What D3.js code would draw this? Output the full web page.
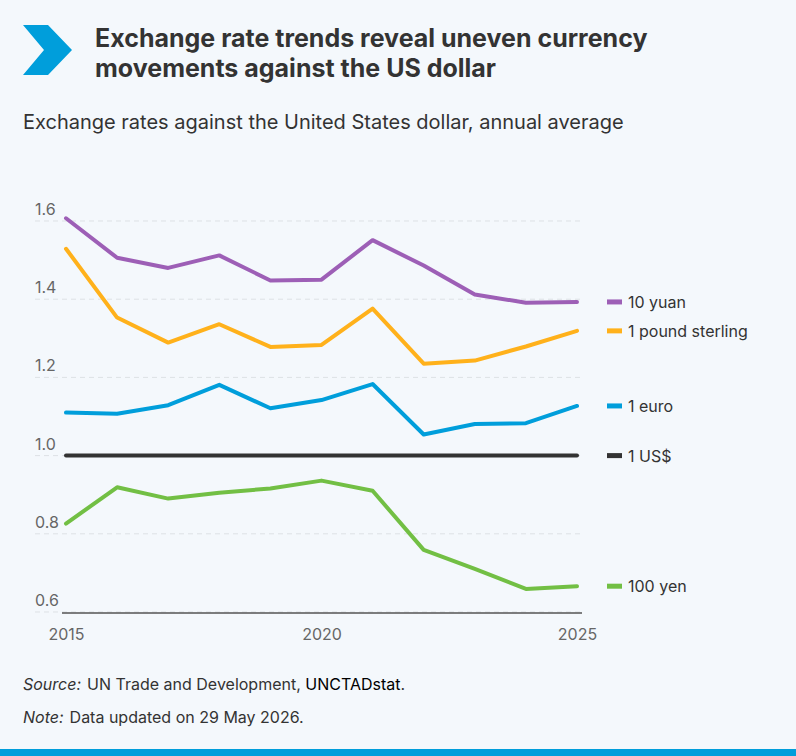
<!DOCTYPE html>
<html>
<head>
<meta charset="utf-8">
<script src="https://cdn.jsdelivr.net/npm/d3@7"></script>
<style>
  html, body { margin: 0; padding: 0; background: #F4F8FC; }
  svg { display: block; font-family: Inter, "Noto Sans", sans-serif; }
</style>
</head>
<body>
<svg id="chart" width="796" height="756"></svg>
<script>
const years = [2015, 2016, 2017, 2018, 2019, 2020, 2021, 2022, 2023, 2024, 2025];
const yuan10   = [1.607, 1.506, 1.480, 1.512, 1.448, 1.450, 1.551, 1.486, 1.412, 1.391, 1.393];
const pound1   = [1.529, 1.353, 1.289, 1.336, 1.278, 1.283, 1.376, 1.235, 1.243, 1.279, 1.319];
const euro1    = [1.110, 1.107, 1.129, 1.181, 1.121, 1.142, 1.183, 1.054, 1.081, 1.083, 1.127];
const usd1     = [1, 1, 1, 1, 1, 1, 1, 1, 1, 1, 1];
const yen100   = [0.826, 0.919, 0.890, 0.905, 0.916, 0.936, 0.910, 0.759, 0.710, 0.659, 0.666];
const seriesNames = ["10 yuan", "1 pound sterling", "1 euro", "1 US$", "100 yen"];
const seriesColors = ["#9D5FB6", "#FFB11B", "#009EDB", "#333333", "#72BF44"];
const yTicks = [0.6, 0.8, 1.0, 1.2, 1.4, 1.6];
const xTicks = [2015, 2020, 2025];

const series = [yuan10, pound1, euro1, usd1, yen100].map((vals, i) => ({
  name: seriesNames[i], color: seriesColors[i], values: vals
}));

const svg = d3.select("#chart");

// Chevron
svg.append("path")
  .attr("d", "M23,25 L48,25 L72,50 L48,75 L23,75 L44,50 Z")
  .attr("fill", "#009EDB");

// Title
const title = svg.append("text")
  .attr("font-size", 25).attr("font-weight", 700).attr("fill", "#333");
title.append("tspan").attr("x", 95).attr("y", 47).text("Exchange rate trends reveal uneven currency");
title.append("tspan").attr("x", 95).attr("y", 77).text("movements against the US dollar");

svg.append("text").attr("x", 23).attr("y", 129)
  .attr("font-size", 20).attr("fill", "#333")
  .text("Exchange rates against the United States dollar, annual average");

const x = d3.scaleLinear().domain([2015, 2025]).range([66, 577]);
const y = d3.scaleLinear().domain([0.6, 1.6]).range([612, 221]);

// Gridlines
svg.append("g").selectAll("line").data(yTicks).join("line")
  .attr("x1", 35).attr("x2", 582)
  .attr("y1", d => y(d)).attr("y2", d => y(d))
  .attr("stroke", "#DDE1E5").attr("stroke-width", 1)
  .attr("stroke-dasharray", "5,4");

// Y labels
svg.append("g").selectAll("text").data(yTicks).join("text")
  .attr("x", 35).attr("y", d => y(d) - 6)
  .attr("font-size", 16).attr("fill", "#666")
  .text(d => d3.format(".1f")(d));

// X axis
const xAxis = d3.axisBottom(x).tickValues(xTicks).tickFormat(d3.format("d")).tickSize(0).tickPadding(0);
const gx = svg.append("g").attr("transform", `translate(0,${y(0.6) + 1})`).call(xAxis);
gx.select(".domain").remove();
gx.selectAll("text").attr("font-size", 16).attr("fill", "#666")
  .attr("font-family", "Inter, 'Noto Sans', sans-serif")
  .attr("dy", 0).attr("y", 27);
svg.append("line").attr("x1", 62).attr("x2", 582)
  .attr("y1", y(0.6) + 1).attr("y2", y(0.6) + 1)
  .attr("stroke", "#555").attr("stroke-width", 1.5);

// Lines
const line = d3.line().x((d, i) => x(years[i])).y(d => y(d));
svg.append("g").selectAll("path").data(series).join("path")
  .attr("d", d => line(d.values))
  .attr("fill", "none").attr("stroke", d => d.color)
  .attr("stroke-width", 4).attr("stroke-linecap", "round").attr("stroke-linejoin", "round");

// Legend labels at end
const leg = svg.append("g").selectAll("g").data(series).join("g")
  .attr("transform", d => `translate(607,${y(d.values[d.values.length - 1])})`);
leg.append("rect").attr("x", 0).attr("y", -2.5).attr("width", 15).attr("height", 5)
  .attr("fill", d => d.color);
leg.append("text").attr("x", 21).attr("y", 6)
  .attr("font-size", 16).attr("fill", "#333").text(d => d.name);

// Footer
const src = svg.append("text").attr("x", 23).attr("y", 690).attr("font-size", 16).attr("fill", "#333");
src.append("tspan").attr("font-style", "italic").text("Source:");
src.append("tspan").attr("dx", 6).text("UN Trade and Development, ");
src.append("tspan").attr("fill", "#000").text("UNCTADstat");
src.append("tspan").text(".");
const note = svg.append("text").attr("x", 23).attr("y", 723).attr("font-size", 16).attr("fill", "#333");
note.append("tspan").attr("font-style", "italic").text("Note:");
note.append("tspan").attr("dx", 6).text("Data updated on 29 May 2026.");

svg.append("rect").attr("x", 0).attr("y", 749).attr("width", 796).attr("height", 7).attr("fill", "#009EDB");
</script>
</body>
</html>
